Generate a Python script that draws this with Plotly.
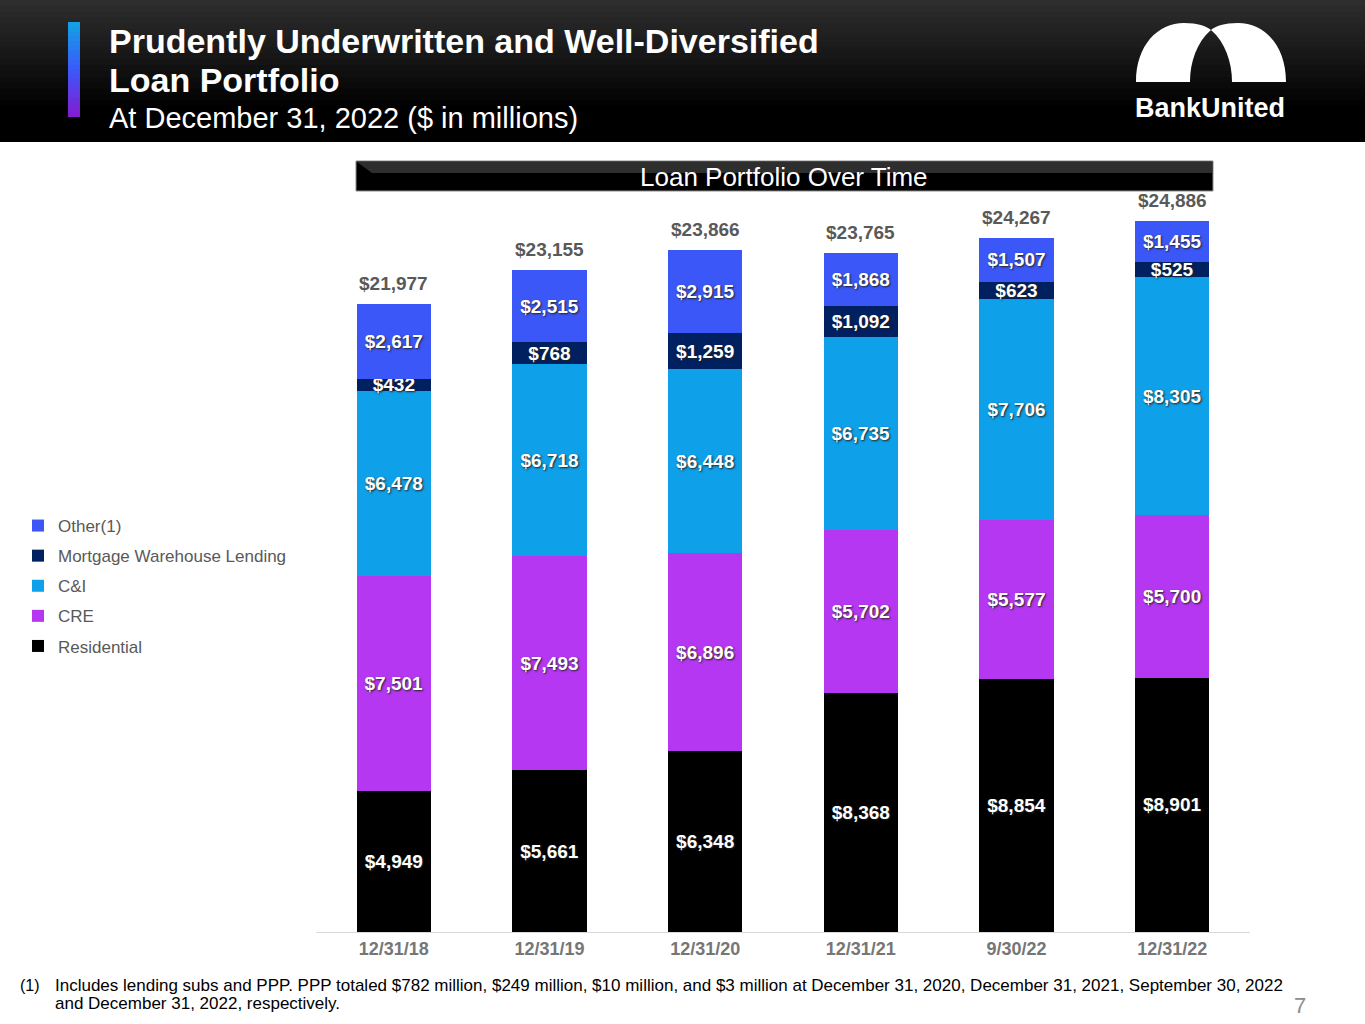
import plotly.graph_objects as go

# data
periods = ["12/31/18", "12/31/19", "12/31/20", "12/31/21", "9/30/22", "12/31/22"]
residential = [4949, 5661, 6348, 8368, 8854, 8901]
cre = [7501, 7493, 6896, 5702, 5577, 5700]
c_and_i = [6478, 6718, 6448, 6735, 7706, 8305]
warehouse = [432, 768, 1259, 1092, 623, 525]
other = [2617, 2515, 2915, 1868, 1507, 1455]

series = [
    ("Residential", residential, "#000000"),
    ("CRE", cre, "#b537f2"),
    ("C&I", c_and_i, "#0ea0e8"),
    ("Mortgage Warehouse Lending", warehouse, "#002060"),
    ("Other(1)", other, "#3b57f8"),
]
totals = [sum(v) for v in zip(*[s[1] for s in series])]

W, H = 1365, 1024
L, R, T, B = 316, 115, 160, 92
PW, PH = W - L - R, H - T - B

def px(x):
    return (x - L) / PW

def py(y):
    return (H - B - y) / PH

TXT = "Liberation Sans, Arial, sans-serif"

fig = go.Figure()
for rank, (name, vals, color) in enumerate(series):
    fig.add_trace(go.Bar(
        x=periods, y=vals, name=name, marker_color=color, marker_line_width=0,
        width=0.476, legendgroup=name, legendrank=len(series) - rank,
        text=["${:,}".format(v) for v in vals],
        textposition="inside", insidetextanchor="middle", constraintext="none",
        textfont=dict(family=TXT, size=19, color="white", weight="bold",
                      shadow="1px 1px 2px #222"),
        hoverinfo="skip",
    ))

for p, t in zip(periods, totals):
    fig.add_annotation(x=p, y=t, text="${:,}".format(t), showarrow=False,
                       yanchor="bottom", yshift=8,
                       font=dict(family=TXT, size=19, color="#595959", weight="bold"))

shapes = []
# header band: stacked rects, each running to the bottom edge, so no seams
steps = 24
shapes.append(dict(type="rect", xref="paper", yref="paper",
                   x0=px(0), x1=px(W), y0=py(0), y1=py(142),
                   fillcolor="#000000", line_width=0, layer="above"))
for i in range(steps):
    y0 = 142 * i / steps
    g = int(46 * (1 - i / (steps * 0.75))) if i < steps * 0.75 else 0
    shapes.append(dict(type="rect", xref="paper", yref="paper",
                       x0=px(0), x1=px(W), y0=py(y0), y1=py(142),
                       fillcolor="rgb({0},{0},{0})".format(max(g, 0)),
                       line_width=0, layer="above"))
# accent bar gradient
acc_top, acc_bot = 22, 117
a_cols = [(20, 160, 230), (58, 90, 250), (130, 30, 210)]
n = 20
for i in range(n):
    f = i / (n - 1)
    if f < 0.5:
        a, b, t = a_cols[0], a_cols[1], f / 0.5
    else:
        a, b, t = a_cols[1], a_cols[2], (f - 0.5) / 0.5
    col = "rgb({},{},{})".format(*[int(a[k] + (b[k] - a[k]) * t) for k in range(3)])
    y0 = acc_top + (acc_bot - acc_top) * i / n
    shapes.append(dict(type="rect", xref="paper", yref="paper",
                       x0=px(68), x1=px(80), y0=py(y0), y1=py(acc_bot),
                       fillcolor=col, line_width=0, layer="above"))

# logo arches
def path(pts):
    s = "M {:.5f},{:.5f} ".format(px(pts[0][0]), py(pts[0][1]))
    for seg in pts[1:]:
        s += "C " + " ".join("{:.5f},{:.5f}".format(px(a), py(b)) for a, b in seg) + " "
    return s + "Z"

left = [(1136, 82),
        [(1136, 45), (1158, 23), (1184, 23)],
        [(1198, 23), (1206, 26), (1211, 30)],
        [(1197, 42), (1190, 62), (1190, 82)]]
right = [(1286, 82),
         [(1286, 45), (1264, 23), (1238, 23)],
         [(1224, 23), (1216, 26), (1211, 30)],
         [(1225, 42), (1232, 62), (1232, 82)]]
for pts in (left, right):
    shapes.append(dict(type="path", xref="paper", yref="paper", path=path(pts),
                       fillcolor="white", line_width=0, layer="above"))

# section header bar
shapes.append(dict(type="rect", xref="paper", yref="paper",
                   x0=px(356), x1=px(1213), y0=py(161), y1=py(191),
                   fillcolor="#000000", line=dict(color="#8c8c8c", width=1), layer="above"))
shapes.append(dict(type="rect", xref="paper", yref="paper",
                   x0=px(372), x1=px(1212), y0=py(162), y1=py(173),
                   fillcolor="#2e2e2e", line_width=0, layer="above"))
shapes.append(dict(type="path", xref="paper", yref="paper",
                   path="M {:.5f},{:.5f} L {:.5f},{:.5f} L {:.5f},{:.5f} Z".format(
                       px(357), py(162), px(372), py(162), px(372), py(173)),
                   fillcolor="#2e2e2e", line_width=0, layer="above"))

fig.update_layout(shapes=shapes)

ann = [
    dict(x=px(107), y=py(41), text="<b>Prudently Underwritten and Well-Diversified</b>",
         font=dict(size=34, color="white", family=TXT)),
    dict(x=px(107), y=py(80), text="<b>Loan Portfolio</b>",
         font=dict(size=34, color="white", family=TXT)),
    dict(x=px(107), y=py(118), text="At December 31, 2022 ($ in millions)",
         font=dict(size=29, color="white", family=TXT)),
    dict(x=px(1133), y=py(108), text="<b>BankUnited</b>",
         font=dict(size=27, color="white", family=TXT)),
    dict(x=px(784), y=py(177), text="Loan Portfolio Over Time", xanchor="center",
         font=dict(size=26, color="white", family=TXT)),
    dict(x=px(18), y=py(985), text="(1)",
         font=dict(size=16, color="black", family=TXT)),
    dict(x=px(53), y=py(985),
         text="Includes lending subs and PPP. PPP totaled $782 million, $249 million, $10 million, and $3 million at December 31, 2020, December 31, 2021, September 30, 2022",
         font=dict(size=17, color="black", family=TXT)),
    dict(x=px(53), y=py(1004), text="and December 31, 2022, respectively.",
         font=dict(size=17, color="black", family=TXT)),
    dict(x=px(1300), y=py(1006), text="7", xanchor="center",
         font=dict(size=22, color="#8c8c8c", family=TXT)),
]
for a in ann:
    a.setdefault("xanchor", "left")
    a.setdefault("yanchor", "middle")
    fig.add_annotation(xref="paper", yref="paper", showarrow=False, **a)

fig.update_layout(
    width=W, height=H,
    margin=dict(l=L, r=R, t=T, b=B),
    barmode="stack",
    plot_bgcolor="white",
    paper_bgcolor="white",
    uniformtext=dict(mode="show", minsize=19),
    showlegend=True,
    legend=dict(x=px(18), y=py(508), xanchor="left", yanchor="top",
                traceorder="grouped", tracegroupgap=5,
                font=dict(family=TXT, size=17, color="#595959"),
                itemwidth=30, bgcolor="rgba(0,0,0,0)"),
    xaxis=dict(range=[-0.5, 5.5], showgrid=False, showline=True, linecolor="#d9d9d9",
               linewidth=1, ticks="", zeroline=False,
               tickfont=dict(family=TXT, size=18, color="#767676", weight="bold")),
    yaxis=dict(range=[0, PH / 0.02858], visible=False, showgrid=False, zeroline=False),
)

fig.write_html("out.html", config={"displayModeBar": False},
               post_script="document.body.style.margin='0';")
